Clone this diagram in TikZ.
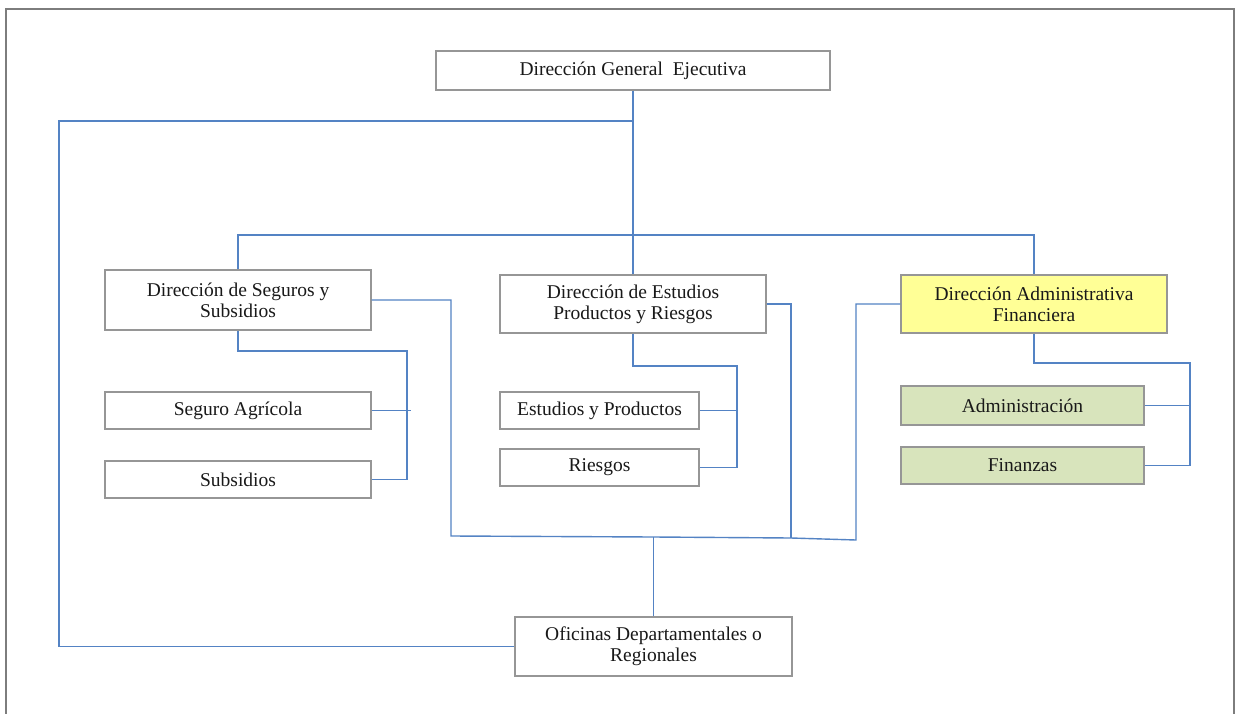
\documentclass[tikz,border=0pt]{standalone}
\usepackage{fontspec}
\setmainfont{Liberation Serif}
\definecolor{conncol}{RGB}{84,131,196}
\definecolor{boxline}{RGB}{150,150,150}
\definecolor{framecol}{RGB}{125,125,125}
\definecolor{yel}{RGB}{255,255,150}
\definecolor{grn}{RGB}{216,228,188}
\tikzset{
  orgbox/.style={draw=boxline, line width=1.4pt, fill=white, rectangle, inner sep=0pt, align=center,
    font=\fontsize{19.5}{21}\selectfont, text=black!90},
  conn/.style={draw=conncol, line width=1.4pt},
}
\begin{document}
\begin{tikzpicture}[x=1pt,y=-1pt]
\useasboundingbox (0,0) rectangle (1236,714);
\fill[white] (0,0) rectangle (1236,714);
\draw[framecol, line width=1.4pt] (6,730) -- (6,9) -- (1234,9) -- (1234,730);

% boxes
\node[orgbox, minimum width=394pt, minimum height=39pt] (dge) at (633,70.5) {Dirección General\ \ Ejecutiva};
\node[orgbox, minimum width=266pt, minimum height=60pt] (dss) at (238,300) {Dirección de Seguros y\\Subsidios};
\node[orgbox, minimum width=266pt, minimum height=58pt] (dep) at (633,304) {Dirección de Estudios\\Productos y Riesgos};
\node[orgbox, fill=yel, minimum width=266pt, minimum height=58pt] (daf) at (1034,304) {Dirección Administrativa\\Financiera};
\node[orgbox, minimum width=266pt, minimum height=37pt] (sa) at (238,410.5) {Seguro Agrícola};
\node[orgbox, minimum width=266pt, minimum height=37pt] (sub) at (238,479.5) {Subsidios};
\node[orgbox, minimum width=199pt, minimum height=37pt] (ep) at (599.5,410.5) {Estudios y Productos};
\node[orgbox, minimum width=199pt, minimum height=37pt] (rie) at (599.5,467.5) {Riesgos};
\node[orgbox, fill=grn, minimum width=243pt, minimum height=39pt] (adm) at (1022.5,405.5) {Administración};
\node[orgbox, fill=grn, minimum width=243pt, minimum height=37pt] (fin) at (1022.5,465.5) {Finanzas};
\node[orgbox, minimum width=277pt, minimum height=59pt] (ofi) at (653.5,646.5) {Oficinas Departamentales o\\Regionales};

% junction coordinates
\coordinate (j1) at (633,121);
\coordinate (lc) at (59,646.5);
\coordinate (j2) at (633,235);
\coordinate (b1) at (451,536);
\coordinate (b2) at (653.5,537);
\coordinate (b3) at (791,538);
\coordinate (b4) at (856,540);
\coordinate (s1) at (407,351);
\coordinate (s2) at (411,410.5);
\coordinate (e1) at (737,366);
\coordinate (e2) at (737,410.5);
\coordinate (a1) at (1190,363);
\coordinate (a2) at (1190,405.5);

% connectors
\draw[conn] (dge.south) -- (dep.north);
\draw[conn] (j1) -| (lc) -- (ofi.west);
\draw[conn] (dss.north) |- (j2) -| (daf.north);
\draw[conn] (dss.east) -| (b1) -- (b2) -- (b3) -- (b4) |- (daf.west);
\draw[conn] (dep.east) -| (b3);
\draw[conn] (ofi.north) -- (b2);
\draw[conn] (dss.south) |- (s1) |- (sub.east);
\draw[conn] (sa.east) -- (s2);
\draw[conn] (dep.south) |- (e1) |- (rie.east);
\draw[conn] (ep.east) -- (e2);
\draw[conn] (daf.south) |- (a1) |- (fin.east);
\draw[conn] (adm.east) -- (a2);
\end{tikzpicture}
\end{document}
